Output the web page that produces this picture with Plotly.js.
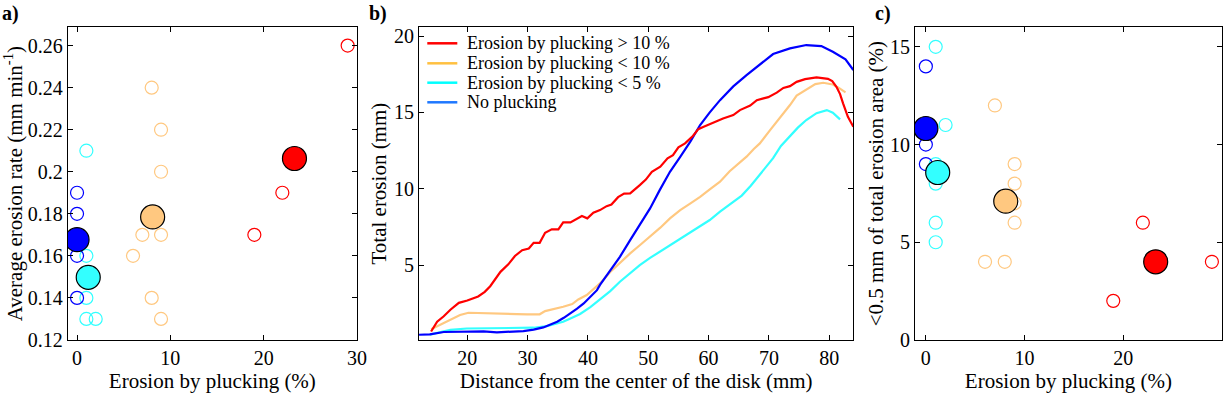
<!DOCTYPE html>
<html>
<head>
<meta charset="utf-8">
<script src="https://cdn.plot.ly/plotly-3.0.1.min.js"></script>
<style>
  body { margin: 0; background: #fff; }
  #plot { width: 1231px; height: 393px; }
</style>
</head>
<body>
<div id="plot"></div>
<script>
// colours
var cRed = "#ff0000", cOrange = "#ffc880", cCyan = "#33ffff", cBlue = "#0000ff";

// a) average erosion rate vs plucking
var rateRedX = [29, 22, 19], rateRedY = [0.26, 0.19, 0.17];
var rateOrangeX = [8, 9, 9, 7, 9, 6, 8, 9], rateOrangeY = [0.24, 0.22, 0.20, 0.17, 0.17, 0.16, 0.14, 0.13];
var rateCyanX = [1, 1, 1, 1, 2], rateCyanY = [0.21, 0.16, 0.14, 0.13, 0.13];
var rateBlueX = [0, 0, 0, 0], rateBlueY = [0.19, 0.18, 0.16, 0.14];
var rateMeanX = [23.3, 8.1, 1.2, 0], rateMeanY = [0.2063, 0.1785, 0.1498, 0.1677];

// b) total erosion profiles
var profRedX = [14.0, 15.0, 16.1, 17.2, 18.6, 20.0, 21.8, 22.9, 23.8, 24.6, 25.5, 26.8, 27.9, 29.1, 30.2, 31.0, 32.0, 32.9, 34.0, 35.1, 35.9, 37.1, 38.2, 39.0, 39.9, 40.9, 42.0, 43.1, 43.9, 45.0, 46.0, 47.0, 48.6, 49.6, 50.6, 52.0, 53.2, 54.1, 55.0, 56.1, 57.4, 58.3, 59.1, 60.5, 62.4, 64.1, 65.2, 66.9, 68.0, 69.1, 69.9, 71.3, 72.4, 73.5, 74.6, 76.0, 77.9, 79.8, 80.5, 81.2, 81.8, 82.3, 83.1, 84.0];
var profRedY = [0.65, 1.29, 1.65, 2.08, 2.53, 2.68, 2.95, 3.25, 3.62, 4.10, 4.56, 5.05, 5.60, 5.98, 6.09, 6.46, 6.46, 7.12, 7.34, 7.34, 7.80, 7.80, 8.06, 8.21, 8.06, 8.43, 8.60, 8.86, 8.97, 9.45, 9.68, 9.70, 10.24, 10.60, 11.11, 11.44, 11.99, 12.20, 12.71, 12.97, 13.45, 13.90, 14.04, 14.28, 14.60, 14.82, 15.15, 15.45, 15.80, 15.92, 16.00, 16.29, 16.60, 16.72, 17.00, 17.18, 17.29, 17.20, 17.05, 16.68, 16.20, 15.59, 14.71, 14.06];
var profOrangeX = [14.0, 15.5, 17.2, 18.8, 20.2, 22.7, 25.5, 28.2, 29.9, 32.0, 32.9, 34.3, 35.9, 37.4, 38.4, 39.8, 41.0, 42.0, 43.7, 45.3, 47.0, 48.6, 50.3, 52.0, 53.6, 55.3, 57.0, 58.6, 60.2, 61.9, 63.5, 64.8, 66.3, 67.5, 68.5, 70.2, 71.8, 73.5, 74.6, 76.2, 77.7, 79.0, 80.6, 81.6, 82.7];
var profOrangeY = [0.80, 1.10, 1.44, 1.73, 1.88, 1.84, 1.79, 1.79, 1.77, 1.78, 1.99, 2.10, 2.27, 2.45, 2.75, 3.04, 3.45, 3.80, 4.55, 5.15, 5.77, 6.30, 6.85, 7.45, 8.06, 8.60, 9.04, 9.47, 9.96, 10.46, 11.15, 11.60, 12.10, 12.60, 12.97, 13.84, 14.60, 15.48, 16.10, 16.50, 16.85, 16.94, 16.83, 16.60, 16.31];
var profCyanX = [13.8, 15.5, 17.2, 19.9, 22.7, 25.5, 28.2, 31.0, 33.2, 35.9, 37.1, 38.7, 40.4, 42.0, 43.7, 45.3, 47.0, 48.6, 50.3, 52.0, 53.6, 55.3, 57.0, 58.6, 60.2, 61.9, 63.0, 64.1, 65.5, 67.0, 68.5, 70.7, 72.0, 73.5, 74.8, 76.2, 77.9, 79.6, 80.6, 81.8];
var profCyanY = [0.45, 0.63, 0.76, 0.85, 0.86, 0.84, 0.85, 0.90, 1.01, 1.29, 1.51, 1.80, 2.25, 2.75, 3.30, 3.91, 4.50, 5.00, 5.47, 5.90, 6.31, 6.75, 7.18, 7.60, 7.95, 8.50, 8.82, 9.15, 9.55, 10.20, 10.90, 12.00, 12.80, 13.45, 14.00, 14.50, 14.95, 15.15, 14.98, 14.54];
var profBlueX = [12.0, 13.8, 16.1, 19.9, 22.7, 24.9, 27.0, 29.3, 31.0, 32.6, 34.0, 34.9, 36.0, 37.1, 38.2, 39.3, 40.4, 41.5, 42.0, 43.7, 45.3, 47.0, 48.6, 50.3, 51.9, 53.6, 55.3, 57.0, 58.6, 60.2, 61.9, 64.1, 66.3, 68.2, 70.7, 73.5, 76.2, 78.7, 80.6, 82.7, 84.0];
var profBlueY = [0.44, 0.46, 0.62, 0.66, 0.66, 0.60, 0.63, 0.68, 0.78, 0.92, 1.15, 1.29, 1.55, 1.84, 2.15, 2.49, 2.92, 3.36, 3.70, 4.65, 5.54, 6.64, 7.62, 8.71, 9.91, 11.11, 12.09, 13.10, 14.17, 15.00, 15.80, 16.70, 17.44, 18.05, 18.82, 19.19, 19.41, 19.34, 18.97, 18.47, 17.77];
var legendNames = ["Erosion by plucking > 10 %", "Erosion by plucking < 10 %", "Erosion by plucking < 5 %", "No plucking"];
var legendColors = ["#ff0000", "#ffc040", "#00ffff", "#1e78ff"];

// c) share of area with <0.5 mm erosion
var areaRedX = [22, 19, 29], areaRedY = [6, 2, 4];
var areaOrangeX = [7, 9, 9, 9, 9, 6, 8], areaOrangeY = [12, 9, 8, 7, 6, 4, 4];
var areaCyanX = [1, 2, 1, 1, 1, 1], areaCyanY = [15, 11, 9, 8, 6, 5];
var areaBlueX = [0, 0, 0], areaBlueY = [14, 10, 9];
var areaMeanX = [23.3, 8.1, 1.2, 0], areaMeanY = [4.0, 7.1, 8.57, 10.82];
var meanColors = [cRed, cOrange, cCyan, cBlue];

function openPts(x, y, col, xa, ya) {
  return {x: x, y: y, xaxis: xa, yaxis: ya, type: "scatter", mode: "markers", showlegend: false,
    marker: {symbol: "circle-open", size: 13, color: col, line: {width: 1.2}}};
}
function meanPts(x, y, xa, ya) {
  return {x: x, y: y, xaxis: xa, yaxis: ya, type: "scatter", mode: "markers", showlegend: false,
    marker: {symbol: "circle", size: 24, color: meanColors, line: {width: 1.2, color: "#000"}}};
}
function line(x, y, col) {
  return {x: x, y: y, xaxis: "x2", yaxis: "y2", type: "scatter", mode: "lines", showlegend: false,
    line: {color: col, width: 2.2}};
}

var traces = [
  openPts(rateRedX, rateRedY, cRed, "x", "y"),
  openPts(rateOrangeX, rateOrangeY, cOrange, "x", "y"),
  openPts(rateCyanX, rateCyanY, cCyan, "x", "y"),
  openPts(rateBlueX, rateBlueY, cBlue, "x", "y"),
  meanPts(rateMeanX, rateMeanY, "x", "y"),
  line(profOrangeX, profOrangeY, cOrange),
  line(profCyanX, profCyanY, cCyan),
  line(profBlueX, profBlueY, cBlue),
  line(profRedX, profRedY, cRed),
  openPts(areaRedX, areaRedY, cRed, "x3", "y3"),
  openPts(areaOrangeX, areaOrangeY, cOrange, "x3", "y3"),
  openPts(areaCyanX, areaCyanY, cCyan, "x3", "y3"),
  openPts(areaBlueX, areaBlueY, cBlue, "x3", "y3"),
  meanPts(areaMeanX, areaMeanY, "x3", "y3")
];

var serif = "Liberation Serif";
var font = {family: serif, size: 20, color: "#000"};
function ax(extra) {
  var base = {showline: true, linecolor: "#000", linewidth: 1, mirror: "ticks", ticks: "inside",
    ticklen: 5, tickcolor: "#000", showgrid: false, zeroline: false,
    tickfont: {family: serif, size: 20, color: "#000"}};
  for (var k in extra) base[k] = extra[k];
  return base;
}
function ttl(text, standoff) {
  return {text: text, standoff: standoff, font: {family: serif, size: 21, color: "#000"}};
}
var yDom = [0.135, 0.9305];

// legend drawn inside panel b (line sample + label per row)
var legRowsY = [0.8898, 0.8389, 0.7896, 0.7397];
var shapes = [], annotations = [];
legendNames.forEach(function (n, i) {
  shapes.push({type: "line", xref: "paper", yref: "paper", x0: 0.3471, x1: 0.3715,
    y0: legRowsY[i], y1: legRowsY[i], line: {color: legendColors[i], width: 2.5}});
  annotations.push({text: n, xref: "paper", yref: "paper", x: 0.3775, y: legRowsY[i],
    xanchor: "left", yanchor: "middle", showarrow: false,
    font: {family: serif, size: 18, color: "#000"}});
});
[["a)", 0], ["b)", 0.298], ["c)", 0.709]].forEach(function (p) {
  annotations.push({text: "<b>" + p[0] + "</b>", x: p[1], y: 1, xref: "paper", yref: "paper",
    xanchor: "left", yanchor: "top", showarrow: false, font: {family: serif, size: 20, color: "#000"}});
});

var layout = {
  width: 1231, height: 393,
  margin: {l: 0, r: 0, t: 0, b: 0},
  paper_bgcolor: "#fff", plot_bgcolor: "#fff",
  font: font,
  showlegend: false,
  xaxis: ax({domain: [0.055, 0.29], range: [-1, 30], dtick: 10, anchor: "y",
    title: ttl("Erosion by plucking (%)", 0)}),
  yaxis: ax({domain: yDom, range: [0.12, 0.2687], dtick: 0.02, anchor: "x",
    title: ttl("Average erosion rate (mm min<sup>-1</sup>)", 4)}),
  xaxis2: ax({domain: [0.3404, 0.6932], range: [12, 84], dtick: 10, anchor: "y2",
    title: ttl("Distance from the center of the disk (mm)", 2)}),
  yaxis2: ax({domain: yDom, range: [0.1, 20.57], tickvals: [5, 10, 15, 20], anchor: "x2",
    title: ttl("Total erosion (mm)", 1)}),
  xaxis3: ax({domain: [0.7433, 0.9925], range: [-1.1, 30], dtick: 10, anchor: "y3",
    title: ttl("Erosion by plucking (%)", 2)}),
  yaxis3: ax({domain: yDom, range: [0, 16], dtick: 5, anchor: "x3",
    title: ttl("<0.5 mm of total erosion area (%)", 0)}),
  shapes: shapes,
  annotations: annotations
};

Plotly.newPlot("plot", traces, layout, {displayModeBar: false, staticPlot: true});
</script>
</body>
</html>
